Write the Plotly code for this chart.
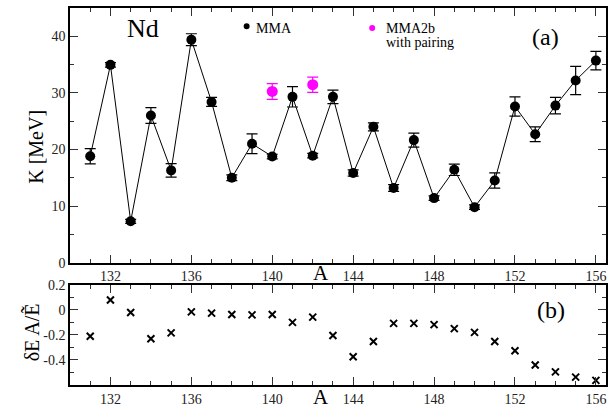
import plotly.graph_objects as go

# ---- data ----
A = [131, 132, 133, 134, 135, 136, 137, 138, 139, 140, 141, 142, 143,
     144, 145, 146, 147, 148, 149, 150, 151, 152, 153, 154, 155, 156]
K_mma = [18.8, 34.95, 7.3, 26.0, 16.3, 39.4, 28.4, 15.0, 21.0, 18.75, 29.3, 18.9, 29.3,
         15.85, 24.0, 13.2, 21.65, 11.4, 16.4, 9.8, 14.5, 27.6, 22.7, 27.75, 32.2, 35.7]
K_err = [1.35, 0.4, 0.35, 1.4, 1.2, 1.05, 0.8, 0.5, 1.75, 0.4, 1.8, 0.4, 1.2,
         0.55, 0.7, 0.6, 1.25, 0.4, 1.0, 0.4, 1.35, 1.7, 1.3, 1.45, 2.5, 1.65]
A_pair = [140, 142]
K_pair = [30.25, 31.45]
K_pair_err = [1.4, 1.35]
dE = [-0.21, 0.079, -0.021, -0.23, -0.184, -0.016, -0.026, -0.037, -0.04, -0.037, -0.10,
      -0.058, -0.205, -0.374, -0.253, -0.108, -0.108, -0.118, -0.15, -0.18, -0.253,
      -0.326, -0.44, -0.495, -0.537, -0.563]
x_ticks = [132, 136, 140, 144, 148, 152, 156]
y1_ticks = [0, 10, 20, 30, 40]
y2_ticks = [-0.4, -0.2, 0, 0.2]
y2_labels = ["-0.4", "-0.2", "0", "0.2"]

SERIF = "Liberation Serif"
W, H = 609, 412
ML, MR, MT, MB = 70, 1, 3, 27
PW, PH = W - ML - MR, H - MT - MB


def px(x):
    return (x - ML) / PW


def py(y):
    return (H - MB - y) / PH


fig = go.Figure()
fig.add_trace(go.Scatter(
    x=A, y=K_mma, mode="lines+markers",
    line=dict(color="black", width=1),
    marker=dict(color="black", size=10),
    error_y=dict(type="data", array=K_err, color="black", thickness=1.2, width=5.5),
    xaxis="x", yaxis="y", showlegend=False))
fig.add_trace(go.Scatter(
    x=A_pair, y=K_pair, mode="markers",
    marker=dict(color="#ff00ff", size=11),
    error_y=dict(type="data", array=K_pair_err, color="#ff00ff", thickness=1.2, width=5.5),
    xaxis="x", yaxis="y", showlegend=False))
fig.add_trace(go.Scatter(
    x=A, y=dE, mode="markers",
    marker=dict(symbol="x-thin", size=7, color="black", line=dict(color="black", width=2)),
    xaxis="x2", yaxis="y2", showlegend=False))

axis_common = dict(
    showline=True, linecolor="black", linewidth=1.5, mirror="allticks",
    ticks="inside", ticklen=8, tickwidth=1.2, tickcolor="#333",
    showgrid=False, zeroline=False,
    tickfont=dict(family=SERIF, size=14, color="#222"),
)

top_dom = [py(261), 1.0]
bot_dom = [0.0, py(283.5)]

fig.update_layout(
    width=W, height=H,
    margin=dict(l=ML, r=MR, t=MT, b=MB),
    paper_bgcolor="white", plot_bgcolor="white",
    font=dict(family=SERIF),
    xaxis=dict(domain=[0, 1], anchor="y", range=[130, 156.5], tickvals=x_ticks,
               minor=dict(dtick=1, tick0=130, ticklen=4, ticks="inside", tickcolor="#333"),
               **axis_common),
    yaxis=dict(domain=top_dom, anchor="x", range=[0, 45], tickvals=y1_ticks,
               minor=dict(dtick=5, tick0=0, ticklen=4, ticks="inside", tickcolor="#333"),
               **axis_common),
    xaxis2=dict(domain=[0, 1], anchor="y2", range=[130, 156.5], tickvals=x_ticks,
                minor=dict(dtick=1, tick0=130, ticklen=4, ticks="inside", tickcolor="#333"),
                **axis_common),
    yaxis2=dict(domain=bot_dom, anchor="x2", range=[-0.6, 0.2], tickvals=y2_ticks,
                ticktext=y2_labels,
                minor=dict(dtick=0.1, tick0=0, ticklen=4, ticks="inside", tickcolor="#333"),
                **axis_common),
)

ann = []


def text(x, y, t, size, xanchor="center", yanchor="middle", angle=0):
    ann.append(dict(x=x, y=y, xref="paper", yref="paper", text=t, showarrow=False,
                    xanchor=xanchor, yanchor=yanchor, textangle=angle,
                    font=dict(family=SERIF, size=size, color="black")))


text(px(143.5), py(24), "Nd", 26)
text(px(547.5), py(32.5), "(a)", 24)
text(px(553), py(309), "(b)", 24)
text(px(321.5), py(271.5), "A", 21)
text(px(321.5), py(397), "A", 21)
text(px(36), py(143.5), "K [MeV]", 20, angle=-90)
text(px(31), py(331.5), "δE A/E\u0303", 20, angle=-90)
text(px(255), py(23.3), "MMA", 14, xanchor="left")
text(px(385), py(23.3), "MMA2b", 14, xanchor="left")
text(px(385), py(37.7), "with pairing", 14, xanchor="left")
fig.update_layout(annotations=ann)

shapes = []
for (cx, cy, col) in [(247.3, 21.5, "black"), (373.3, 23.3, "#ff00ff")]:
    shapes.append(dict(type="circle", xref="paper", yref="paper",
                       xsizemode="pixel", ysizemode="pixel",
                       xanchor=px(cx), yanchor=py(cy),
                       x0=-3, x1=3, y0=-3, y1=3,
                       fillcolor=col, line=dict(width=0)))
fig.update_layout(shapes=shapes)

fig.write_html(
    "out.html",
    config={"displayModeBar": False},
    post_script="document.body.style.margin='0';document.body.style.padding='0';"
                "document.body.style.overflow='hidden';",
)
